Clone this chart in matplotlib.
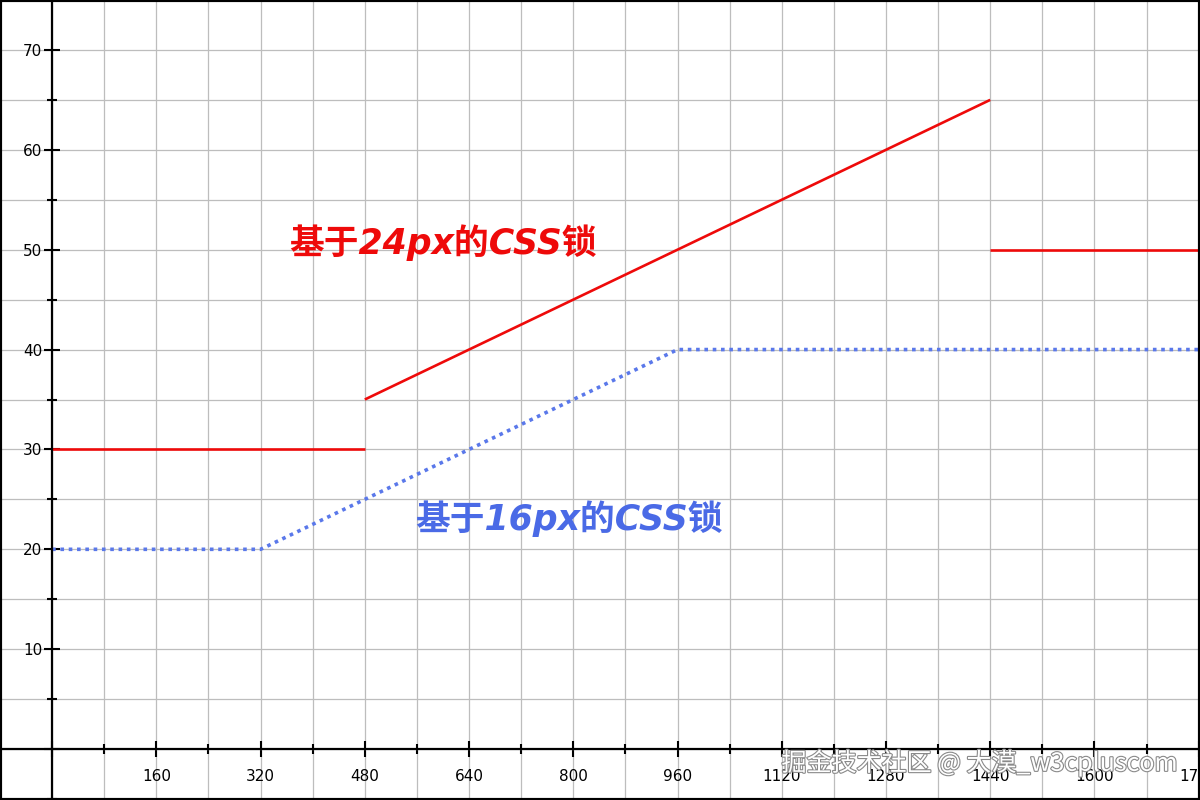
import matplotlib
matplotlib.use('Agg')
import matplotlib.pyplot as plt
import matplotlib.patheffects as pe
from matplotlib.patches import Rectangle
from matplotlib.ticker import MultipleLocator, FuncFormatter

plt.rcParams['font.family'] = ['DejaVu Sans', 'Noto Sans CJK SC']

# 基于24px的CSS锁 (three separate pieces)
red_x = [[0, 480], [480, 1440], [1440, 1800]]
red_y = [[30, 30], [35, 65], [50, 50]]

# 基于16px的CSS锁
blue_x = [0, 320, 960, 1800]
blue_y = [20, 20, 40, 40]

red_label = '基于24px的CSS锁'
blue_label = '基于16px的CSS锁'
watermark = '掘金技术社区 @ 大漠_w3cpluscom'

fig = plt.figure(figsize=(12, 8), dpi=100)
ax = fig.add_axes([0, 0, 1, 1])
ax.set_xlim(-80, 1762)
ax.set_ylim(-5.1, 75)

ax.xaxis.set_major_locator(MultipleLocator(160))
ax.xaxis.set_minor_locator(MultipleLocator(80))
ax.yaxis.set_major_locator(MultipleLocator(10))
ax.yaxis.set_minor_locator(MultipleLocator(5))
ax.xaxis.set_major_formatter(FuncFormatter(lambda v, p: '' if v == 0 else f'{v:.0f}'))
ax.yaxis.set_major_formatter(FuncFormatter(lambda v, p: '' if v == 0 else f'{v:.0f}'))

ax.grid(True, which='both', color='#bdbdbd', linewidth=0.9)
ax.set_axisbelow(True)

for side in ['top', 'right']:
    ax.spines[side].set_visible(False)
ax.spines['left'].set_position(('data', 0))
ax.spines['bottom'].set_position(('data', 0))
ax.spines['left'].set_linewidth(1.6)
ax.spines['bottom'].set_linewidth(1.6)

ax.tick_params(which='major', direction='inout', length=12, width=1.5, labelsize=11)
ax.tick_params(which='minor', direction='inout', length=7, width=1.5)
ax.tick_params(axis='x', which='major', pad=8)
ax.tick_params(axis='y', which='major', pad=1)

for xs, ys in zip(red_x, red_y):
    ax.plot(xs, ys, color='#ee0a0a', linewidth=1.9, solid_capstyle='butt')
ax.plot(blue_x, blue_y, color='#5a78ea', linewidth=2.6, linestyle=(0, (1, 1.3)))

label_font = ['DejaVu Sans', 'Noto Sans CJK SC']
ax.text(600, 50.7, red_label, color='#ee0a0a', fontsize=25, fontweight='bold',
        family=label_font, ha='center', va='center', fontstyle='italic')
ax.text(794, 23.1, blue_label, color='#4a6ae6', fontsize=25, fontweight='bold',
        family=label_font, ha='center', va='center', fontstyle='italic')

ax.text(1727, -1.4, watermark, color='white', fontsize=18,
        family=['Noto Sans CJK SC', 'DejaVu Sans'], ha='right', va='center',
        path_effects=[pe.withStroke(linewidth=1.6, foreground='#8a8a8a')])

fig.patches.append(Rectangle((0, 0), 1, 1, transform=fig.transFigure, fill=False,
                             edgecolor='black', linewidth=3))

fig.savefig('out.png', dpi=100)
